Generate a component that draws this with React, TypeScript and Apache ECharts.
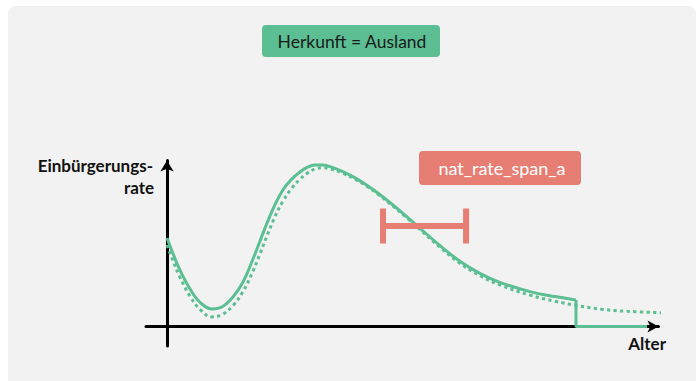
import React, { useEffect, useRef } from "react";
import * as echarts from "echarts";

// Solid curve: [Alter, Einbürgerungsrate]
const solidCurve: [number, number][] = [
  [0, 55.3], [1.25, 45.0], [2.5, 35.5], [4.5, 23.5], [6.5, 15.0], [8.8, 11.0],
  [10.8, 12.3], [12.9, 18.4], [14.9, 28.0], [16.8, 42.0], [18.2, 53.5],
  [19.6, 65.0], [21.1, 76.0], [22.7, 85.5], [24.3, 91.8], [26.0, 96.6],
  [27.5, 99.6], [28.9, 100.9], [30.4, 100.9], [31.9, 99.9], [34.4, 96.8],
  [36.8, 92.9], [39.1, 88.3], [41.3, 83.3], [43.6, 77.5], [46.6, 69.5],
  [49.5, 61.4], [53.4, 50.5], [57.3, 40.8], [61.2, 33.2], [65.1, 27.6],
  [71.0, 21.8], [75.9, 18.7], [80.0, 16.6],
];
// Step down at the end of the solid curve
const solidStep: [number, number][] = [[80.0, 16.6], [80.0, 0], [93.9, 0]];
// Dotted curve
const dottedCurve: [number, number][] = [
  [0, 50.9], [1.25, 40.5], [2.5, 31.0], [4.5, 19.0], [6.5, 10.5], [8.8, 6.0],
  [10.8, 7.5], [12.9, 13.0], [14.9, 22.0], [16.8, 34.5], [18.2, 45.5],
  [19.6, 57.0], [21.1, 68.5], [22.7, 78.5], [24.3, 86.0], [26.0, 92.0],
  [27.5, 96.0], [29.0, 98.5], [30.5, 99.2], [32.0, 98.5], [34.4, 95.8],
  [36.8, 92.0], [39.1, 87.6], [41.3, 82.6], [43.6, 76.8], [46.6, 68.8],
  [49.5, 60.6], [53.4, 49.5], [57.3, 39.5], [61.2, 31.8], [65.1, 26.0],
  [71.0, 19.6], [75.9, 15.8], [80.0, 13.2], [85.0, 10.8], [90.0, 9.5],
  [98.2, 8.4],
];
// Span: [start age, end age, level]
const spanData: [number, number, number][] = [[42.25, 58.5, 62.8]];

const labelTop = "Herkunft = Ausland";
const labelSpan = "nat_rate_span_a";
const yName = "Einbürgerungs-";
const yName2 = "rate";
const xName = "Alter";

const GREEN = "#5cbf93";
const RED = "#e77e73";
const FONT = "Lato, 'Noto Sans', sans-serif";

export default function App() {
  const ref = useRef<HTMLDivElement>(null);
  useEffect(() => {
    if (!ref.current) return;
    const chart = echarts.init(ref.current, undefined, { renderer: "svg" });
    chart.setOption({
      animation: false,
      backgroundColor: "#ffffff",
      grid: { left: 146, right: 38.5, top: 160.5, bottom: 35, containLabel: false },
      xAxis: {
        type: "value",
        min: -4.108,
        max: 96.14,
        axisLine: {
          onZero: true,
          lineStyle: { color: "#000", width: 3 },
          symbol: ["none", "arrow"],
          symbolSize: [9, 11],
        },
        axisTick: { show: false },
        axisLabel: { show: false },
        splitLine: { show: false },
      },
      yAxis: {
        type: "value",
        min: -12.19,
        max: 103.75,
        axisLine: {
          onZero: true,
          lineStyle: { color: "#000", width: 3 },
          symbol: ["none", "arrow"],
          symbolSize: [10, 11],
        },
        axisTick: { show: false },
        axisLabel: { show: false },
        splitLine: { show: false },
      },
      graphic: [
        {
          type: "rect",
          z: -10,
          shape: { x: 8, y: 6, width: 688, height: 390, r: 8 },
          style: { fill: "#f2f2f2" },
          silent: true,
        },
        {
          type: "rect",
          shape: { x: 262, y: 25, width: 178, height: 32, r: 4 },
          style: { fill: GREEN },
        },
        {
          type: "text",
          style: {
            text: labelTop, x: 352, y: 41, align: "center", verticalAlign: "middle",
            fill: "#1a1a1a", font: `17.5px ${FONT}`,
          },
        },
        {
          type: "rect",
          shape: { x: 419, y: 151, width: 162, height: 34, r: 4 },
          style: { fill: RED },
        },
        {
          type: "text",
          style: {
            text: labelSpan, x: 502, y: 168, align: "center", verticalAlign: "middle",
            fill: "#ffffff", font: `18px ${FONT}`,
          },
        },
        {
          type: "text",
          style: {
            text: yName, x: 153, y: 165, align: "right", verticalAlign: "middle",
            fill: "#111", font: `bold 17px ${FONT}`,
          },
        },
        {
          type: "text",
          style: {
            text: yName2, x: 154, y: 187, align: "right", verticalAlign: "middle",
            fill: "#111", font: `bold 17px ${FONT}`,
          },
        },
        {
          type: "text",
          style: {
            text: xName, x: 666, y: 343, align: "right", verticalAlign: "middle",
            fill: "#111", font: `bold 17px ${FONT}`,
          },
        },
      ],
      series: [
        {
          type: "line",
          data: dottedCurve,
          smooth: 0.4,
          symbol: "none",
          clip: false,
          lineStyle: { color: GREEN, width: 3, type: [3.3, 3.3], cap: "butt" },
          z: 3,
        },
        {
          type: "line",
          data: solidCurve,
          smooth: 0.4,
          symbol: "none",
          clip: false,
          lineStyle: { color: GREEN, width: 3 },
          z: 4,
        },
        {
          type: "line",
          data: solidStep,
          smooth: false,
          symbol: "none",
          clip: false,
          lineStyle: { color: GREEN, width: 3 },
          z: 4,
        },
        {
          type: "custom",
          data: spanData,
          z: 5,
          renderItem: (params: any, api: any) => {
            const p1 = api.coord([api.value(0), api.value(2)]);
            const p2 = api.coord([api.value(1), api.value(2)]);
            const t = 6;
            const h = 35;
            return {
              type: "group",
              children: [
                { type: "rect", shape: { x: p1[0] - t / 2, y: p1[1] - t / 2, width: p2[0] - p1[0] + t, height: t }, style: { fill: RED } },
                { type: "rect", shape: { x: p1[0] - t / 2, y: p1[1] - h / 2, width: t, height: h }, style: { fill: RED } },
                { type: "rect", shape: { x: p2[0] - t / 2, y: p2[1] - h / 2, width: t, height: h }, style: { fill: RED } },
              ],
            };
          },
        },
      ],
    });
    return () => chart.dispose();
  }, []);
  return (
    <div
      ref={ref}
      style={{ position: "fixed", left: 0, top: 0, width: 697, height: 381 }}
    />
  );
}
